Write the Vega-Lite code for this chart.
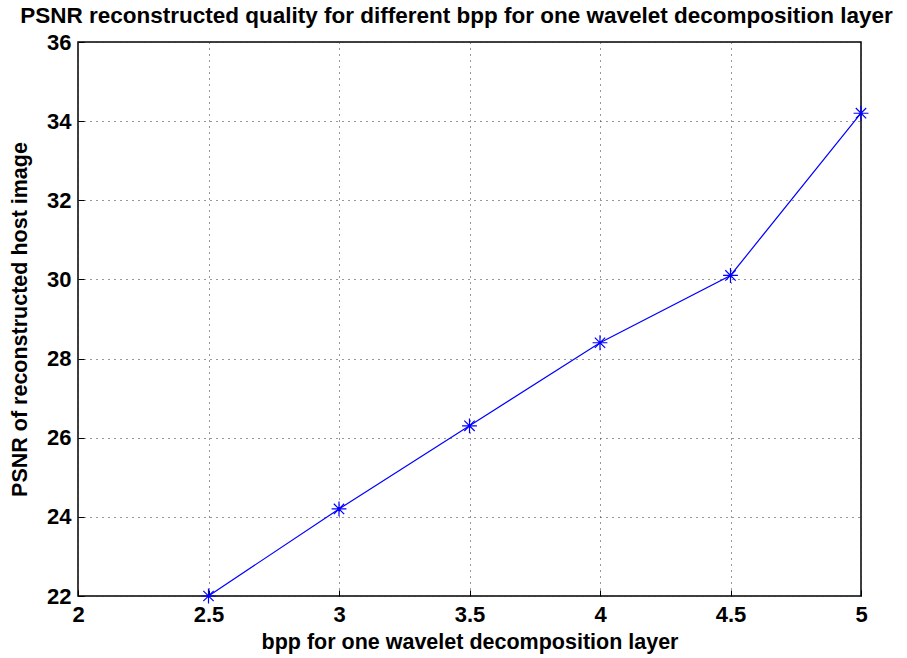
{
  "$schema": "https://vega.github.io/schema/vega-lite/v6.json",
  "autosize": "none",
  "width": 783,
  "height": 554,
  "padding": {"left": 78, "top": 42, "right": 46, "bottom": 62},
  "background": "white",
  "title": {
    "text": "PSNR reconstructed quality for different bpp for one wavelet decomposition layer",
    "font": "Liberation Sans",
    "fontSize": 22.5,
    "fontWeight": "bold",
    "color": "black",
    "anchor": "middle",
    "offset": 4,
    "dx": -13
  },
  "config": {
    "view": {"stroke": "black", "strokeWidth": 1.5},
    "axis": {
      "labelFont": "Liberation Sans",
      "labelFontSize": 22,
      "labelFontWeight": "bold",
      "labelColor": "black",
      "titleFont": "Liberation Sans",
      "titleFontSize": 21.5,
      "titleFontWeight": "bold",
      "titleColor": "black",
      "domain": false,
      "tickColor": "black",
      "tickSize": -6,
      "gridColor": "#333",
      "gridDash": [1, 5],
      "gridWidth": 1,
      "gridOpacity": 1
    }
  },
  "data": {
    "values": [
      {"bpp": 2.5, "psnr": 22.0},
      {"bpp": 3.0, "psnr": 24.2},
      {"bpp": 3.5, "psnr": 26.3},
      {"bpp": 4.0, "psnr": 28.4},
      {"bpp": 4.5, "psnr": 30.1},
      {"bpp": 5.0, "psnr": 34.2}
    ]
  },
  "encoding": {
    "x": {
      "field": "bpp",
      "type": "quantitative",
      "scale": {"domain": [2, 5], "nice": false, "zero": false},
      "axis": {"values": [2, 2.5, 3, 3.5, 4, 4.5, 5], "format": "~g", "title": "bpp for one wavelet decomposition layer", "labelPadding": 14, "titlePadding": 6, "labelFlush": false}
    },
    "y": {
      "field": "psnr",
      "type": "quantitative",
      "scale": {"domain": [22, 36], "nice": false, "zero": false},
      "axis": {"values": [22, 24, 26, 28, 30, 32, 34, 36], "title": "PSNR of reconstructed host image", "labelPadding": 13, "titleX": -58, "titleBaseline": "middle", "labelFlush": false}
    }
  },
  "layer": [
    {"mark": {"type": "line", "color": "#0000ff", "strokeWidth": 1.2, "clip": false}},
    {
      "mark": {
        "type": "point",
        "shape": "M-1,0L1,0M0,-1L0,1M-0.7,-0.7L0.7,0.7M-0.7,0.7L0.7,-0.7",
        "filled": false,
        "stroke": "#0000ff",
        "strokeWidth": 1.2,
        "size": 220,
        "opacity": 1,
        "clip": false
      }
    }
  ]
}
